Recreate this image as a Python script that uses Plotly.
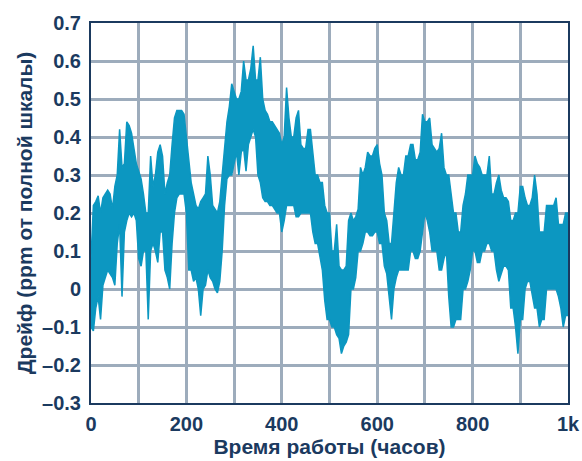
import plotly.graph_objects as go

# Operating time (hours), sampled every 5 h
hours = list(range(0, 1001, 5))

# Upper envelope of the drift trace (ppm FS)
drift_upper = [
    0.08, 0.22, 0.23, 0.245, 0.20, 0.24, 0.25, 0.26, 0.25, 0.21,
    0.27, 0.30, 0.42, 0.32, 0.33, 0.44, 0.43, 0.41, 0.37, 0.33,
    0.31, 0.29, 0.25, 0.20, 0.20, 0.35, 0.27, 0.30, 0.36, 0.38,
    0.35, 0.25, 0.28, 0.30, 0.38, 0.45, 0.47, 0.47, 0.47, 0.46,
    0.40, 0.33, 0.28, 0.25, 0.22, 0.21, 0.23, 0.24, 0.25, 0.35,
    0.30, 0.22, 0.21, 0.20, 0.23, 0.30, 0.38, 0.44, 0.48, 0.54,
    0.52, 0.50, 0.50, 0.52, 0.60, 0.55, 0.55, 0.58, 0.64, 0.55,
    0.55, 0.61, 0.50, 0.47, 0.46, 0.44, 0.44, 0.43, 0.42, 0.41,
    0.38, 0.40, 0.53, 0.45, 0.40, 0.40, 0.45, 0.47, 0.38, 0.37,
    0.37, 0.42, 0.42, 0.35, 0.30, 0.30, 0.28, 0.28, 0.22, 0.20,
    0.20, 0.10, 0.10, 0.17, 0.06, 0.05, 0.05, 0.06, 0.18, 0.20,
    0.18, 0.19, 0.21, 0.32, 0.30, 0.32, 0.36, 0.35, 0.35, 0.37,
    0.38, 0.33, 0.30, 0.20, 0.18, 0.12, 0.12, 0.20, 0.28, 0.32,
    0.30, 0.30, 0.35, 0.35, 0.38, 0.38, 0.34, 0.34, 0.36, 0.46,
    0.44, 0.44, 0.45, 0.38, 0.37, 0.36, 0.37, 0.41, 0.32, 0.30,
    0.30, 0.25, 0.20, 0.20, 0.15, 0.15, 0.22, 0.25, 0.30, 0.30,
    0.30, 0.35, 0.33, 0.32, 0.30, 0.30, 0.30, 0.35, 0.25, 0.25,
    0.28, 0.30, 0.26, 0.24, 0.24, 0.23, 0.18, 0.18, 0.20, 0.20,
    0.27, 0.27, 0.24, 0.22, 0.22, 0.24, 0.30, 0.25, 0.15, 0.15,
    0.15, 0.22, 0.22, 0.22, 0.22, 0.24, 0.17, 0.17, 0.17, 0.20,
    0.20,
]

# Lower envelope of the drift trace (ppm FS)
drift_lower = [
    -0.10, -0.11, -0.05, -0.02, -0.08, 0.01, 0.03, 0.05, 0.04, 0.03,
    0.01, 0.12, 0.17, -0.02, 0.15, 0.18, 0.20, 0.19, 0.20, 0.18,
    0.08, 0.06, 0.10, 0.10, -0.08, 0.10, 0.12, 0.10, 0.07, 0.15,
    0.15, 0.05, 0.03, 0.00, 0.12, 0.20, 0.24, 0.25, 0.25, 0.25,
    0.20, 0.05, 0.05, 0.02, 0.03, 0.00, -0.07, 0.00, 0.01, 0.05,
    0.03, 0.02, 0.00, -0.01, 0.02, 0.10, 0.22, 0.29, 0.30, 0.30,
    0.33, 0.36, 0.30, 0.36, 0.37, 0.31, 0.38, 0.40, 0.42, 0.40,
    0.30, 0.28, 0.24, 0.23, 0.23, 0.22, 0.22, 0.21, 0.20, 0.20,
    0.15, 0.18, 0.22, 0.22, 0.22, 0.22, 0.19, 0.19, 0.20, 0.20,
    0.20, 0.20, 0.20, 0.15, 0.12, 0.12, 0.08, 0.05, -0.03, -0.08,
    -0.08, -0.10, -0.10, -0.12, -0.13, -0.17, -0.15, -0.14, -0.12, 0.00,
    0.00, 0.03, 0.10, 0.10, 0.12, 0.15, 0.15, 0.14, 0.14, 0.15,
    0.15, 0.12, 0.12, 0.06, 0.04, -0.03, -0.08, 0.00, 0.03, 0.05,
    0.05, 0.05, 0.05, 0.05, 0.10, 0.10, 0.08, 0.08, 0.10, 0.15,
    0.20, 0.18, 0.15, 0.10, 0.10, 0.10, 0.05, 0.05, 0.08, 0.10,
    -0.02, -0.10, -0.10, -0.08, -0.08, -0.08, 0.00, 0.00, 0.02, 0.05,
    0.10, 0.10, 0.07, 0.07, 0.10, 0.10, 0.12, 0.12, 0.10, 0.10,
    0.05, 0.02, 0.04, 0.06, 0.06, 0.05, -0.05, -0.05, -0.10, -0.17,
    -0.08, -0.08, 0.00, 0.02, 0.02, -0.02, -0.05, -0.05, -0.10, -0.08,
    -0.08, 0.00, 0.00, 0.00, 0.00, 0.00, -0.02, -0.05, -0.10, -0.07,
    -0.07,
]

x_tickvals = [0, 100, 200, 300, 400, 500, 600, 700, 800, 900, 1000]
x_ticktext = ["0", "", "200", "", "400", "", "600", "", "800", "", "1k"]
y_tickvals = [0.7, 0.6, 0.5, 0.4, 0.3, 0.2, 0.1, 0.0, -0.1, -0.2, -0.3]
y_ticktext = ["0.7", "0.6", "0.5", "0.4", "0.3", "0.2", "0.1", "0",
              "–0.1", "–0.2", "–0.3"]

TRACE = "#0c97c1"
NAVY = "#1b3a5f"
GRID = "#9dacbc"
FONT = "Liberation Sans, Arial, sans-serif"

fig = go.Figure()
fig.add_trace(go.Scatter(x=hours, y=drift_lower, mode="lines",
                         line=dict(color=TRACE, width=1.5),
                         hoverinfo="skip", showlegend=False))
fig.add_trace(go.Scatter(x=hours, y=drift_upper, mode="lines",
                         line=dict(color=TRACE, width=1.5),
                         fill="tonexty", fillcolor=TRACE,
                         showlegend=False))

fig.update_layout(
    width=582, height=461,
    margin=dict(l=90.5, r=13.5, t=22.7, b=57.5),
    paper_bgcolor="white", plot_bgcolor="white",
    font=dict(family=FONT, color=NAVY, size=20, weight="bold"),
    xaxis=dict(
        range=[0, 1000], tickmode="array", tickvals=x_tickvals,
        ticktext=x_ticktext, showgrid=True, gridcolor=GRID, gridwidth=3,
        showline=True, linecolor=NAVY, linewidth=2, mirror=True,
        ticks="", zeroline=False, ticklabelstandoff=2, automargin=False,
        title=dict(text="Время работы (часов)",
                   font=dict(size=21, weight="bold", color=NAVY),
                   standoff=2),
    ),
    yaxis=dict(
        range=[-0.3, 0.7], tickmode="array", tickvals=y_tickvals,
        ticktext=y_ticktext, showgrid=True, gridcolor=GRID, gridwidth=3,
        showline=True, linecolor=NAVY, linewidth=2, mirror=True,
        ticks="", zeroline=False, ticklabelstandoff=4, automargin=False,
        title=dict(text="Дрейф (ppm от полной шкалы)",
                   font=dict(size=21, weight="bold", color=NAVY),
                   standoff=4),
    ),
)

fig.write_html("out.html",
               config={"displayModeBar": False},
               post_script="document.body.style.margin='0';")
